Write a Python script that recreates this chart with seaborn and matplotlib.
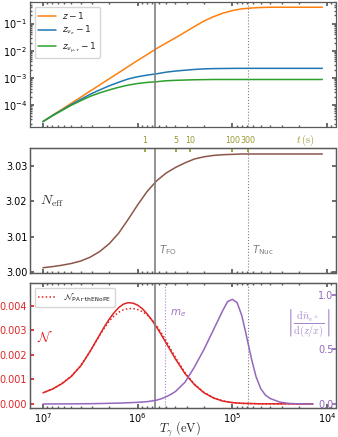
import numpy as np
import matplotlib
matplotlib.use("Agg")
import matplotlib.pyplot as plt
import seaborn as sns
from matplotlib.font_manager import FontProperties
from matplotlib.ticker import NullLocator

# ---------------- values ----------------
# log10(T_gamma / eV) grid for the two upper panels
logT_top = [7.0, 6.9, 6.8, 6.7, 6.6, 6.5, 6.4, 6.3, 6.2, 6.1,
            6.0, 5.9, 5.8, 5.7, 5.6, 5.5, 5.4, 5.3, 5.2, 5.1,
            5.0, 4.9, 4.8, 4.7, 4.6, 4.5, 4.4, 4.3, 4.2, 4.1, 4.05]

z_m1 = [2.45e-5, 4.17e-5, 6.9e-5, 1.17e-4, 1.95e-4, 3.3e-4, 5.5e-4, 9.3e-4, 1.55e-3, 2.6e-3,
        4.4e-3, 7.2e-3, 1.2e-2, 1.9e-2, 3.0e-2, 4.8e-2, 7.8e-2, 0.123, 0.178, 0.24,
        0.30, 0.347, 0.372, 0.389, 0.398, 0.398, 0.398, 0.398, 0.398, 0.398, 0.398]

z_nue_m1 = [2.45e-5, 4.1e-5, 6.5e-5, 1.05e-4, 1.62e-4, 2.5e-4, 3.6e-4, 5.1e-4, 6.9e-4, 9.1e-4,
            1.10e-3, 1.26e-3, 1.41e-3, 1.62e-3, 1.78e-3, 1.91e-3, 2.04e-3, 2.14e-3, 2.19e-3, 2.21e-3,
            2.23e-3, 2.24e-3, 2.24e-3, 2.24e-3, 2.24e-3, 2.24e-3, 2.24e-3, 2.24e-3, 2.24e-3, 2.24e-3, 2.24e-3]

z_numu_m1 = [2.45e-5, 4.0e-5, 6.3e-5, 9.8e-5, 1.45e-4, 2.1e-4, 2.8e-4, 3.6e-4, 4.5e-4, 5.4e-4,
             6.2e-4, 6.8e-4, 7.2e-4, 7.8e-4, 8.1e-4, 8.3e-4, 8.5e-4, 8.6e-4, 8.7e-4, 8.7e-4,
             8.7e-4, 8.7e-4, 8.7e-4, 8.7e-4, 8.7e-4, 8.7e-4, 8.7e-4, 8.7e-4, 8.7e-4, 8.7e-4, 8.7e-4]

Neff = [3.0012, 3.0015, 3.0019, 3.0024, 3.0031, 3.0042, 3.0058, 3.0080, 3.0110, 3.0149,
        3.0190, 3.0228, 3.0258, 3.0280, 3.0296, 3.0309, 3.0320, 3.0326, 3.0330, 3.0332,
        3.0333, 3.0334, 3.0334, 3.0334, 3.0334, 3.0334, 3.0334, 3.0334, 3.0334, 3.0334, 3.0334]

# bottom panel grid (finer around the peak)
logT_bot = [7.0, 6.9, 6.8, 6.7, 6.6, 6.5, 6.4, 6.35, 6.3, 6.25, 6.2, 6.15, 6.1, 6.05,
            6.0, 5.95, 5.9, 5.85, 5.8, 5.75, 5.7, 5.65, 5.6, 5.5, 5.4, 5.3, 5.2, 5.1,
            5.0, 4.9, 4.8, 4.7, 4.6, 4.5, 4.4, 4.3, 4.2, 4.15]

N_curve = [0.00045, 0.00060, 0.00082, 0.00112, 0.00155, 0.00215, 0.00282, 0.00315, 0.00345, 0.00371,
           0.00392, 0.00406, 0.00412, 0.00410, 0.00402, 0.00387, 0.00366, 0.00341, 0.00312, 0.00281,
           0.00248, 0.00215, 0.00182, 0.00123, 0.00078, 0.00045, 0.00024, 0.00011,
           0.00005, 0.00002, 0.00001, 0.0, 0.0, 0.0, 0.0, 0.0, 0.0, 0.0]

N_parthenope = [0.00045, 0.00060, 0.00083, 0.00113, 0.00156, 0.00215, 0.00280, 0.00310, 0.00337, 0.00358,
                0.00373, 0.00383, 0.00388, 0.00388, 0.00384, 0.00375, 0.00362, 0.00342, 0.00318, 0.00289,
                0.00257, 0.00222, 0.00188, 0.00127, 0.00080, 0.00047, 0.00025, 0.00012,
                0.00005, 0.00002, 0.00001, 0.0, 0.0, 0.0, 0.0, 0.0, 0.0, 0.0]

logT_dn = [7.0, 6.9, 6.8, 6.7, 6.6, 6.5, 6.4, 6.3, 6.2, 6.1,
           6.0, 5.9, 5.8, 5.75, 5.7, 5.65, 5.6, 5.5, 5.4, 5.3, 5.25, 5.2, 5.15, 5.1, 5.05,
           5.0, 4.95, 4.9, 4.85, 4.8, 4.75, 4.7, 4.65, 4.6, 4.5, 4.4, 4.3, 4.2, 4.15]
dn_ee = [0.0, 0.0003, 0.0006, 0.001, 0.0017, 0.0027, 0.004, 0.006, 0.008, 0.011,
         0.015, 0.021, 0.035, 0.048, 0.066, 0.088, 0.115, 0.20, 0.34, 0.50, 0.59, 0.68, 0.77, 0.86, 0.94,
         0.96, 0.93, 0.81, 0.62, 0.42, 0.25, 0.14, 0.08, 0.05, 0.017, 0.005, 0.001, 0.0, 0.0]

# top axis of the middle panel: cosmic time (s)
t_labels = ["1", "5", "10", "100", "300"]
t_at_T = [8.4e5, 3.9e5, 2.8e5, 1.0e5, 6.8e4]

T_FO = 6.5e5
T_Nuc = 6.9e4
m_e = 5.11e5

T_top = [10 ** v for v in logT_top]
T_bot = [10 ** v for v in logT_bot]
T_dn = [10 ** v for v in logT_dn]

# ---------------- style ----------------
sns.set_theme(style="ticks", rc={
    "xtick.direction": "in", "ytick.direction": "in",
    "xtick.top": True, "ytick.right": True,
    "axes.edgecolor": ".35", "axes.linewidth": 0.9,
    "xtick.color": ".35", "ytick.color": ".35",
    "xtick.labelcolor": "black", "ytick.labelcolor": "black",
    "xtick.labelsize": 7, "ytick.labelsize": 7,
    "xtick.major.size": 3, "ytick.major.size": 3,
    "xtick.minor.size": 1.6, "ytick.minor.size": 1.6,
    "xtick.major.pad": 2, "ytick.major.pad": 2,
})
plt.rcParams["font.family"] = ["DejaVu Sans"]

c_or, c_bl, c_gr = "#ff7f0e", "#1f77b4", "#2ca02c"
c_br, c_red, c_pur = "#8c564b", "#e02424", "#9467bd"
c_olive = "#9a9a33"
lw = 1.1

W, H = 338, 437
fig = plt.figure(figsize=(W / 100, H / 100), dpi=100)
left, width = 30 / W, 305.5 / W
ax1 = fig.add_axes([left, (H - 127) / H, width, 125 / H])
ax2 = fig.add_axes([left, (H - 273) / H, width, 125 / H], sharex=ax1)
ax3 = fig.add_axes([left, (H - 408) / H, width, 125 / H], sharex=ax1)

xlim = (10 ** 7.137, 10 ** 3.911)

# ---- top panel ----
ax1.set_xscale("log")
ax1.set_yscale("log")
sns.lineplot(x=T_top, y=z_m1, ax=ax1, color=c_or, lw=lw, label=r"$z-1$")
sns.lineplot(x=T_top, y=z_nue_m1, ax=ax1, color=c_bl, lw=lw, label=r"$z_{\nu_e}-1$")
sns.lineplot(x=T_top, y=z_numu_m1, ax=ax1, color=c_gr, lw=lw, label=r"$z_{\nu_{\mu,\tau}}-1$")
ax1.set_ylim(1.55e-5, 0.62)
ax1.legend(loc="upper left", fontsize=6.5, frameon=True, handlelength=2.0,
           borderpad=0.4, labelspacing=0.3, handletextpad=0.6,
           bbox_to_anchor=(0.0, 1.0))

# ---- middle panel ----
sns.lineplot(x=T_top, y=Neff, ax=ax2, color=c_br, lw=lw, legend=False)
ax2.set_ylim(2.9997, 3.0351)
ax2.set_yticks([3.00, 3.01, 3.02, 3.03])
ax2.set_yticklabels(["3.00", "3.01", "3.02", "3.03"])
ax2.tick_params(axis="x", which="both", top=False)
ax2.text(0.033, 0.57, r"$N_{\rm eff}$", transform=ax2.transAxes, fontsize=10,
         color=".2", ha="left", va="center", math_fontfamily="cm")
ax2.text(0.422, 0.184, r"$T_{\rm FO}$", transform=ax2.transAxes, fontsize=7.5,
         color="gray", ha="left", va="center")
ax2.text(0.727, 0.184, r"$T_{\rm Nuc}$", transform=ax2.transAxes, fontsize=7.5,
         color="gray", ha="left", va="center")

ax2t = ax2.twiny()
ax2t.set_xscale("log")
ax2t.set_xlim(xlim)
ax2t.set_xticks(t_at_T)
ax2t.set_xticklabels(t_labels)
ax2t.xaxis.set_minor_locator(NullLocator())
ax2t.tick_params(axis="x", colors=c_olive, labelcolor=c_olive, direction="in", pad=2, labelsize=5.8)
ax2t.text(0.9, 1.064, r"$t\,(\mathrm{s})$", transform=ax2t.transAxes, fontsize=7.5,
          color=c_olive, ha="center", va="center", math_fontfamily="cm")

# ---- bottom panel ----
sns.lineplot(x=T_bot, y=N_curve, ax=ax3, color=c_red, lw=lw, legend=False)
sns.lineplot(x=T_bot, y=N_parthenope, ax=ax3, color=c_red, lw=lw, linestyle=(0, (1, 1.5)),
             legend=False)
ax3.set_ylim(-0.00017, 0.00492)
ax3.set_yticks([0.0, 0.001, 0.002, 0.003, 0.004])
ax3.set_yticklabels(["0.000", "0.001", "0.002", "0.003", "0.004"])
ax3.tick_params(axis="y", colors=c_red, labelcolor=c_red)
leg_handles = [ax3.get_lines()[1]]
ax3.legend(leg_handles, [r"$\mathcal{N}_{\mathtt{PArthENoPE}}$"], loc="upper left",
           prop=FontProperties(size=6.5), handlelength=2.0, borderpad=0.4)
ax3.text(0.022, 0.57, r"$\mathcal{N}$", transform=ax3.transAxes, fontsize=10,
         color=c_red, ha="left", va="center", math_fontfamily="cm")
ax3.axvline(m_e, color=c_pur, lw=0.8, ls=":", alpha=0.8)
ax3.text(0.458, 0.758, r"$m_e$", transform=ax3.transAxes, fontsize=7.5,
         color=c_pur, alpha=0.9, ha="left", va="center")

ax3r = ax3.twinx()
sns.lineplot(x=T_dn, y=dn_ee, ax=ax3r, color=c_pur, lw=lw, legend=False)
ax3r.set_ylim(-0.037, 1.11)
ax3r.set_yticks([0.0, 0.5, 1.0])
ax3r.set_yticklabels(["0.0", "0.5", "1.0"])
ax3r.tick_params(axis="y", colors=c_pur, labelcolor=c_pur, direction="in", labelsize=7, pad=-1.5)
for lab in ax3r.get_yticklabels():
    lab.set_horizontalalignment("right")
ax3r.set_ylabel("")
ax3r.text(0.912, 0.678, r"$\left|\frac{\mathrm{d}\bar{n}_{e^\pm}}{\mathrm{d}(z/x)}\right|$",
          transform=ax3.transAxes, fontsize=10.5, color=c_pur, alpha=0.8,
          ha="center", va="center", math_fontfamily="cm")

ax3.set_xlabel(r"$T_\gamma\ (\mathrm{eV})$", fontsize=9, math_fontfamily="cm")
ax3.xaxis.set_label_coords(0.49, -0.085)

# vertical markers through all panels
for ax in (ax1, ax2, ax3):
    ax.axvline(T_FO, color="gray", lw=1.2)
    ax.axvline(T_Nuc, color="gray", lw=0.8, ls=":")
    ax.set_ylabel("")

ax1.set_xlim(xlim)
ax1.tick_params(labelbottom=False)
ax2.tick_params(labelbottom=False)
ax1.set_xlabel("")
ax2.set_xlabel("")

fig.savefig("out.png", dpi=100)
